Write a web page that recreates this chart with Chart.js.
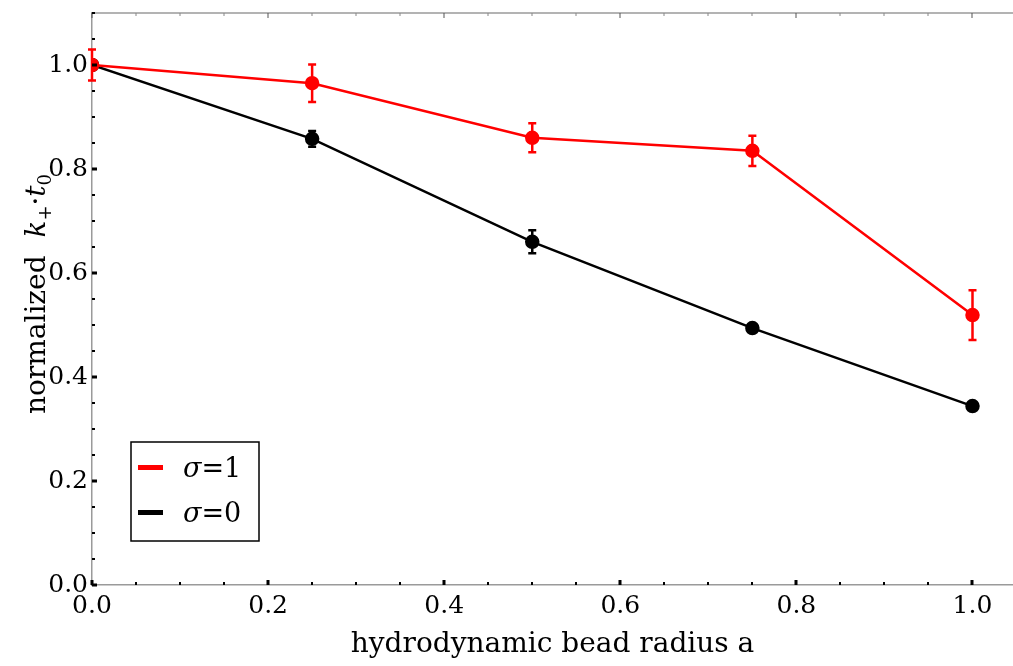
<!DOCTYPE html>
<html>
<head>
<meta charset="utf-8">
<script src="https://cdn.jsdelivr.net/npm/chart.js@4.4.1/dist/chart.umd.min.js"></script>
<style>
  html, body { margin: 0; padding: 0; background: #fff; }
  #wrap { width: 1013px; height: 666px; position: relative; }
</style>
</head>
<body>
<div id="wrap"><canvas id="rateChart"></canvas></div>
<script>
// bead radius a
const radii = [0, 0.25, 0.5, 0.75, 1.0];
// normalized rate, sigma = 1 and sigma = 0, with their error bars
const sigma1 = [1.0, 0.965, 0.86, 0.835, 0.519];
const sigma1Err = [0.03, 0.036, 0.028, 0.029, 0.048];
const sigma0 = [1.0, 0.858, 0.66, 0.494, 0.344];
const sigma0Err = [0.0, 0.015, 0.022, 0.006, 0.004];

const xTicks = [0, 0.2, 0.4, 0.6, 0.8, 1.0];
const yTicks = [0, 0.2, 0.4, 0.6, 0.8, 1.0];
const legendLabels = ['1', '0'];
const seriesColors = ['#ff0000', '#000000'];

const serif = '"DejaVu Serif", "Liberation Serif", serif';
const frameColor = '#9a9a9a';

// error bars with small caps
const errorBars = {
  id: 'errorBars',
  afterDatasetsDraw(chart) {
    const { ctx, scales: { x, y } } = chart;
    const errs = [sigma1Err, sigma0Err];
    ctx.save();
    chart.data.datasets.forEach((ds, i) => {
      ctx.strokeStyle = ds.borderColor;
      ctx.lineWidth = 2.5;
      ds.data.forEach((p, j) => {
        const e = errs[i][j];
        if (!e) return;
        const px = x.getPixelForValue(p.x);
        const top = y.getPixelForValue(p.y + e);
        const bot = y.getPixelForValue(p.y - e);
        ctx.beginPath();
        ctx.moveTo(px, top); ctx.lineTo(px, bot);
        ctx.moveTo(px - 4, top); ctx.lineTo(px + 4, top);
        ctx.moveTo(px - 4, bot); ctx.lineTo(px + 4, bot);
        ctx.stroke();
      });
    });
    ctx.restore();
  }
};

// frame: top border, inward tick marks, y title and legend box
const frameDecor = {
  id: 'frameDecor',
  afterDraw(chart) {
    const { ctx, chartArea: a, scales: { x, y } } = chart;
    ctx.save();
    ctx.strokeStyle = frameColor;
    ctx.lineWidth = 1.5;
    ctx.beginPath();
    ctx.moveTo(a.left, a.top); ctx.lineTo(a.right, a.top);
    ctx.stroke();

    ctx.fillStyle = '#000';
    for (let k = 0; k <= 20; k++) {
      const v = k * 0.05;
      const major = k % 4 === 0;
      const px = Math.round(x.getPixelForValue(v));
      const w = major ? 3 : 2, h = major ? 5 : 3;
      ctx.fillRect(px - w / 2, a.bottom - h, w, h);
      ctx.fillStyle = major ? '#555' : '#888';
      ctx.fillRect(px - 0.5, a.top, 1, h);
      ctx.fillStyle = '#000';
    }
    for (let k = 0; k <= 22; k++) {
      const v = k * 0.05;
      const major = k % 4 === 0;
      const py = Math.round(y.getPixelForValue(v));
      const w = major ? 5 : 3, h = major ? 3 : 2;
      ctx.fillRect(a.left, py - h / 2, w, h);
    }

    // y title: normalized  k+ . t0
    ctx.translate(36, 294);
    ctx.rotate(-Math.PI / 2);
    ctx.textBaseline = 'alphabetic';
    const parts = [
      { t: 'normalized  ', f: '28px ' + serif, dy: 0 },
      { t: 'k', f: 'italic 28px ' + serif, dy: 0 },
      { t: '+', f: '18px ' + serif, dy: 6 },
      { t: '·', f: '28px ' + serif, dy: 0 },
      { t: 't', f: 'italic 28px ' + serif, dy: 0 },
      { t: '0', f: '18px ' + serif, dy: 6 }
    ];
    let total = 0;
    parts.forEach(p => { ctx.font = p.f; p.w = ctx.measureText(p.t).width; total += p.w; });
    let cx = -total / 2;
    parts.forEach(p => {
      ctx.font = p.f;
      ctx.fillText(p.t, cx, 9 + p.dy);
      cx += p.w;
    });
    ctx.setTransform(1, 0, 0, 1, 0, 0);

    // legend
    const lx = 131, ly = 442, lw = 128, lh = 99;
    ctx.fillStyle = '#fff';
    ctx.fillRect(lx, ly, lw, lh);
    ctx.strokeStyle = '#000';
    ctx.lineWidth = 1.5;
    ctx.strokeRect(lx, ly, lw, lh);
    legendLabels.forEach((lab, i) => {
      const yy = ly + 25 + i * 45;
      ctx.fillStyle = seriesColors[i];
      ctx.fillRect(lx + 7, yy - 2, 25, 5);
      ctx.fillStyle = '#000';
      ctx.font = 'italic 27px ' + serif;
      ctx.fillText('σ', lx + 52, yy + 10);
      const sw = ctx.measureText('σ').width;
      ctx.font = '27px ' + serif;
      ctx.fillText('=' + lab, lx + 52 + sw, yy + 10);
    });
    ctx.restore();
  }
};

new Chart(document.getElementById('rateChart'), {
  type: 'line',
  data: {
    datasets: [
      {
        label: 'σ=1',
        data: radii.map((r, i) => ({ x: r, y: sigma1[i] })),
        borderColor: seriesColors[0],
        backgroundColor: seriesColors[0],
        borderWidth: 2.5,
        pointRadius: 6,
        pointHoverRadius: 6,
        tension: 0
      },
      {
        label: 'σ=0',
        data: radii.map((r, i) => ({ x: r, y: sigma0[i] })),
        borderColor: seriesColors[1],
        backgroundColor: seriesColors[1],
        borderWidth: 2.5,
        pointRadius: 6,
        pointHoverRadius: 6,
        tension: 0
      }
    ]
  },
  options: {
    responsive: true,
    maintainAspectRatio: false,
    animation: false,
    layout: { autoPadding: false, padding: { top: 13, right: 0, left: 0, bottom: 0 } },
    scales: {
      x: {
        type: 'linear',
        min: 0,
        max: 1.046,
        afterBuildTicks: s => { s.ticks = xTicks.map(v => ({ value: v })); },
        afterFit: s => { s.height = 81; s.paddingLeft = 0; s.paddingRight = 0; },
        grid: { display: false, drawTicks: false },
        border: { color: frameColor, width: 1.5 },
        ticks: {
          color: '#000',
          padding: 6,
          maxRotation: 0,
          font: { family: serif, size: 25 },
          callback: v => v.toFixed(1)
        },
        title: {
          display: true,
          text: 'hydrodynamic bead radius a',
          color: '#000',
          padding: { top: 0, bottom: 4 },
          font: { family: serif, size: 28 }
        }
      },
      y: {
        min: 0,
        max: 1.1,
        afterBuildTicks: s => { s.ticks = yTicks.map(v => ({ value: v })); },
        afterFit: s => { s.width = 92; s.paddingTop = 0; s.paddingBottom = 0; },
        grid: { display: false, drawTicks: false },
        border: { color: frameColor, width: 1.5 },
        ticks: {
          color: '#000',
          padding: 4,
          font: { family: serif, size: 25 },
          callback: v => v.toFixed(1)
        }
      }
    },
    plugins: {
      legend: { display: false },
      tooltip: { enabled: false }
    }
  },
  plugins: [errorBars, frameDecor]
});
</script>
</body>
</html>
